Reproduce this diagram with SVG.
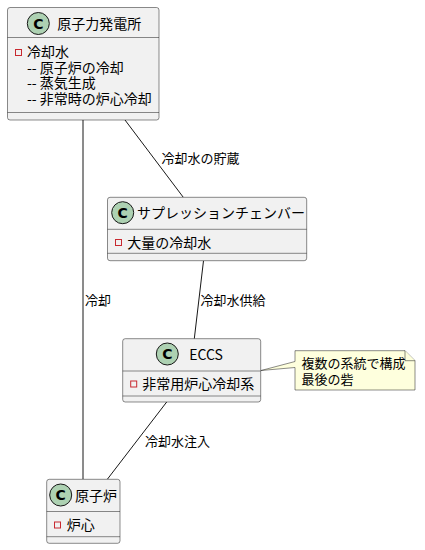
<svg xmlns="http://www.w3.org/2000/svg" width="425" height="550" viewBox="0 0 425 550">
<style>
.box{fill:#F1F1F1;stroke:#181818;stroke-width:0.5}
.div{stroke:#181818;stroke-width:0.5}
.circ{fill:#ADD1B2;stroke:#181818;stroke-width:1}
.c{font-family:"DejaVu Sans","Liberation Sans",sans-serif;font-weight:bold;font-size:14px;fill:#000;text-anchor:middle}
.t{font-family:"Noto Sans CJK JP","Noto Sans",sans-serif;font-size:14px;fill:#000}
.a{font-family:"Noto Sans CJK JP","Noto Sans",sans-serif;font-size:14px;fill:#000}
.l{font-family:"Noto Sans CJK JP","Noto Sans",sans-serif;font-size:13px;fill:#000}
.sq{fill:none;stroke:#C82930;stroke-width:1}
.e{stroke:#181818;stroke-width:1;fill:none}
.note{fill:#FEFFDD;stroke:#181818;stroke-width:0.5}
</style>
<g id="connectors">
<line class="e" x1="83" y1="120" x2="83" y2="479.3"/>
<text class="l" x="85" y="305">冷却</text>
<line class="e" x1="125" y1="120" x2="183.3" y2="197.3"/>
<text class="l" x="161.5" y="163">冷却水の貯蔵</text>
<line class="e" x1="203.5" y1="260.7" x2="194.3" y2="338.7"/>
<text class="l" x="200.5" y="305">冷却水供給</text>
<line class="e" x1="166.7" y1="402" x2="107.3" y2="479.3"/>
<text class="l" x="145" y="446">冷却水注入</text>
</g>
<g id="node-plant">
<rect class="box" x="7.5" y="7.5" width="151.5" height="112.5" rx="2.5"/>
<circle class="circ" cx="38.3" cy="23.5" r="11"/>
<text class="c" x="38.3" y="28.5">C</text>
<text class="t" x="57.3" y="29">原子力発電所</text>
<line class="div" x1="7.5" y1="37.5" x2="159" y2="37.5"/>
<rect class="sq" x="15.5" y="49.5" width="6" height="6"/>
<text class="a" x="27" y="57">冷却水</text>
<text class="a" x="27" y="72.5">-- 原子炉の冷却</text>
<text class="a" x="27" y="88">-- 蒸気生成</text>
<text class="a" x="27" y="103.5">-- 非常時の炉心冷却</text>
<line class="div" x1="7.5" y1="112.5" x2="159" y2="112.5"/>
</g>
<g id="node-suppression">
<rect class="box" x="107.5" y="197.3" width="199.2" height="63.4" rx="2.5"/>
<circle class="circ" cx="122.7" cy="212.7" r="11"/>
<text class="c" x="122.7" y="217.7">C</text>
<text class="t" x="137" y="218">サプレッションチェンバー</text>
<line class="div" x1="107.5" y1="229.3" x2="306.7" y2="229.3"/>
<rect class="sq" x="115.5" y="239.5" width="6" height="6"/>
<text class="a" x="127.3" y="247.5">大量の冷却水</text>
<line class="div" x1="107.5" y1="253.3" x2="306.7" y2="253.3"/>
</g>
<g id="node-eccs">
<rect class="box" x="122.7" y="338.7" width="138" height="63.3" rx="2.5"/>
<circle class="circ" cx="167.3" cy="354" r="11"/>
<text class="c" x="167.3" y="359">C</text>
<text class="t" x="189.3" y="360">ECCS</text>
<line class="div" x1="122.7" y1="371" x2="260.7" y2="371"/>
<rect class="sq" x="130.7" y="381" width="6" height="6"/>
<text class="a" x="142.3" y="389">非常用炉心冷却系</text>
<line class="div" x1="122.7" y1="396" x2="260.7" y2="396"/>
</g>
<g id="node-reactor">
<rect class="box" x="46.7" y="479.3" width="73.3" height="64" rx="2.5"/>
<circle class="circ" cx="60.7" cy="495" r="11"/>
<text class="c" x="60.7" y="500">C</text>
<text class="t" x="75" y="501">原子炉</text>
<line class="div" x1="46.7" y1="511.5" x2="120" y2="511.5"/>
<rect class="sq" x="54.5" y="522" width="6" height="6"/>
<text class="a" x="66.7" y="530">炉心</text>
<line class="div" x1="46.7" y1="536.7" x2="120" y2="536.7"/>
</g>
<g id="note">
<path class="note" d="M295,350.7 L405,350.7 L415,360.7 L415,390 L295,390 L295,367.5 L261,370.5 L295,361.5 Z"/>
<path class="note" d="M405,350.7 L405,360.7 L415,360.7"/>
<text class="l" x="301.5" y="368">複数の系統で構成</text>
<text class="l" x="301.5" y="383.5">最後の砦</text>
</g>
</svg>
